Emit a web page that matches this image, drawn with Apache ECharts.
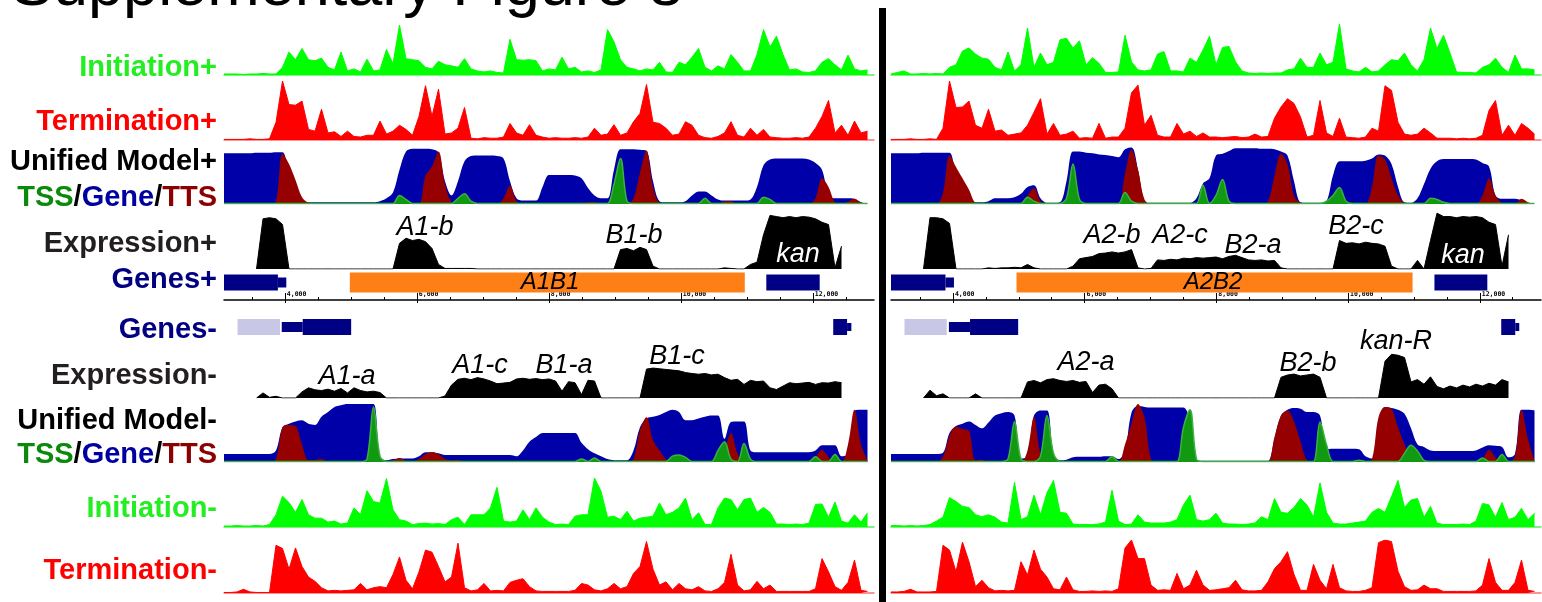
<!DOCTYPE html>
<html><head><meta charset="utf-8">
<script src="https://cdn.jsdelivr.net/npm/echarts/dist/echarts.min.js"></script>
<style>html,body{margin:0;padding:0;background:#fff;}#chart{width:1542px;height:602px;}</style>
</head><body><div id="chart"></div>
<script>
const n = null;
// ---------------- DATA (values in % of track height, 100 bins per panel) ----------------
const TITLE = 'Supplementary Figure 8';
const ROW_LABELS = ['Initiation+','Termination+','Unified Model+','TSS/Gene/TTS','Expression+','Genes+','Genes-','Expression-','Unified Model-','TSS/Gene/TTS','Initiation-','Termination-'];
const TICKS = [4000,6000,8000,10000,12000];
const MINOR_TICKS = [3500,4500,5000,5500,6500,7000,7500,8500,9000,9500,10500,11000,11500,12500];

// Left panel
const IP_L = [2,2,2,1,2,2,3,2,2,15, 45,30,52,30,28,33,15,10,45,8, 12,6,31,8,10,50,22,98,32,30, 28,15,12,27,20,18,15,32,12,8, 6,8,5,4,70,30,29,30,28,8, 12,10,35,12,15,6,8,5,10,89, 65,30,15,12,8,12,10,25,6,5, 25,20,35,52,15,8,18,12,40,25, 8,8,40,89,55,76,40,10,12,6, 5,8,25,32,20,10,39,12,8,10];
const TP_L = [1,1,1,1,2,1,1,2,30,100, 60,59,66,18,15,52,12,14,6,15, 6,5,8,8,32,10,15,25,18,8, 40,92,40,86,10,12,20,55,3,2, 4,3,3,5,28,12,8,26,8,5, 3,4,3,3,4,3,5,20,8,10, 26,8,12,31,45,94,30,28,20,8, 10,31,25,8,4,3,6,12,31,8, 5,20,8,18,5,4,3,3,4,3, 5,20,40,67,12,25,8,32,12,15];
const UB_L = [89,89,89,89,89,90,90,90,91,91, 50,20,5,3,3,3,3,3,3,3, 3,3,3,3,5,10,20,60,92,97, 97,97,96,90,40,15,40,75,84,85, 85,85,84,80,40,10,6,6,6,30, 51,51,51,51,50,45,28,15,10,10, 60,96,96,96,95,93,40,5,3,3, 3,5,15,22,22,15,8,6,6,6, 6,8,30,68,78,80,80,80,80,80, 78,72,60,15,10,10,10,9,3,1];
const UR_L = [0,0,0,0,0,0,0,0,5,88, 70,42,12,2,0,0,0,0,0,0, 0,0,0,0,0,0,0,0,0,0, 0,50,66,92,35,3,0,0,0,0, 0,0,0,10,32,5,0,0,0,0, 0,0,0,0,0,0,3,3,0,0, 0,0,0,10,55,94,30,2,0,0, 0,0,0,0,0,0,0,5,5,0, 0,0,0,0,0,0,0,0,0,0, 0,10,45,30,3,0,4,9,2,0];
const UG_L = [1,1,1,1,1,1,1,1,1,1, 1,1,1,1,1,1,1,1,1,1, 1,1,1,1,1,1,1,15,8,1, 1,1,1,1,1,1,10,18,5,1, 1,1,1,1,1,1,1,1,1,1, 1,1,1,1,1,1,1,1,1,1, 35,80,5,1,1,1,1,1,1,1, 1,1,1,1,10,1,1,1,1,1, 1,1,1,12,8,1,1,1,1,1, 1,1,1,1,1,1,1,1,1,1];
const EP_L = [n,n,n,n,n,0,88,90,88,78, 0,0,0,0,0,0,0,0,0,0, 0,0,0,0,0,0,0,45,54,50, 52,48,36,8,1,1,1,1,1,0, 0,0,0,0,0,0,0,0,0,0, 0,0,0,0,0,0,0,0,0,0, 0,34,36,32,38,34,5,0,0,0, 0,0,0,0,0,0,0,2,1,0, 0,8,12,60,94,92,90,92,90,92, 91,88,82,78,2,40,n,n,n,n];
const GP_L = [[3078,3895,0],[3895,4022,1],[4985,10970,2],[11296,12105,0]];
const GM_L = [[3283,3927,3],[3953,4271,1],[4271,5005,0],[12310,12520,0],[12520,12585,4]];
const EM_L = [n,n,n,n,n,0,15,2,5,0, 0,0,18,30,24,22,26,20,28,15, 30,22,18,20,16,0,0,0,0,0, 0,0,0,0,6,38,55,58,54,60, 56,50,42,44,46,56,58,55,57,54, 56,50,20,48,45,10,52,50,0,0, 0,0,0,0,0,85,88,86,84,82, 80,75,72,70,72,68,70,60,52,55, 40,52,48,50,30,25,35,45,42,44, 46,40,45,44,48,45,n,n,n,n];
const UMB_L = [14,14,14,14,14,14,14,14,20,60, 66,70,72,66,64,78,86,95,98,100, 100,100,100,100,10,3,5,6,6,6, 10,17,17,15,12,12,12,12,12,12, 12,12,12,12,12,10,20,35,43,50, 50,50,50,50,50,33,22,15,10,5, 3,3,3,20,60,75,78,81,86,90, 86,72,72,75,78,80,80,40,69,70, 70,20,17,17,17,17,17,17,17,17, 17,20,29,29,29,10,12,88,90,90];
const UMR_L = [0,0,0,0,0,0,0,0,5,60, 64,62,30,3,4,5,0,0,0,0, 0,0,0,0,0,0,3,7,2,0, 5,14,17,14,5,3,4,0,0,0, 0,0,0,0,0,0,0,0,0,0, 0,0,0,0,0,0,0,0,0,0, 0,0,0,5,55,77,38,20,5,0, 4,8,0,0,0,0,0,20,50,15, 0,0,0,0,0,0,0,0,0,0, 0,8,21,8,0,0,30,90,30,2];
const UMG_L = [1,1,1,1,1,1,1,1,1,1, 1,1,1,1,1,1,1,1,1,1, 1,1,5,95,10,1,1,1,1,1, 1,1,1,1,1,1,1,1,1,1, 1,1,1,1,1,1,1,1,1,1, 1,1,1,1,1,5,1,7,1,1, 1,1,1,1,1,1,1,1,1,10, 12,8,1,1,1,1,20,35,5,1, 32,5,1,1,1,1,1,1,1,1, 1,9,1,1,13,1,1,1,1,1];
const IM_L = [2,2,3,2,2,3,2,5,25,63, 50,30,56,25,18,18,10,12,6,8, 39,25,74,52,49,99,35,15,12,5, 7,8,6,7,5,15,20,5,25,25, 25,39,81,12,10,12,35,15,39,20, 10,5,6,5,22,25,25,100,73,20, 22,15,32,12,18,20,22,49,25,30, 39,59,15,29,5,5,39,59,56,35, 56,59,30,40,30,6,6,5,6,5, 8,46,47,20,51,12,8,25,10,29];
const TM_L = [1,1,2,7,2,1,1,1,90,84, 45,85,50,30,22,10,4,5,4,5, 6,18,6,10,12,10,35,68,24,8, 40,81,77,50,21,30,94,10,4,6, 18,4,5,4,20,24,27,12,4,3, 3,3,3,3,5,18,15,6,4,8, 18,8,12,37,50,97,45,15,21,6, 18,8,6,12,4,3,8,20,73,15, 4,6,22,8,15,3,3,3,3,3, 3,8,65,40,12,5,20,62,5,3];
const NAMES_L = ['A1-b','B1-b','kan','A1B1','A1-a','A1-c','B1-a','B1-c'];

// Right panel
const IP_R = [2,5,8,2,2,3,2,3,2,15, 20,47,53,41,33,31,15,10,45,8, 20,92,15,43,20,25,69,72,53,67, 20,34,23,5,5,6,78,26,10,8, 10,41,46,8,8,6,33,25,49,76, 20,54,56,26,8,4,3,4,3,4, 4,10,12,33,15,15,43,20,25,100, 12,8,6,15,6,8,20,30,28,43, 20,8,30,92,52,78,43,6,5,5, 4,15,20,33,15,5,39,12,12,10];
const TP_R = [1,1,1,2,1,1,2,1,20,100, 55,56,66,25,20,52,15,17,8,10, 12,25,47,70,10,28,8,10,15,3, 4,3,28,3,5,5,20,80,93,25, 42,8,5,5,28,10,15,6,12,5, 5,4,5,6,4,5,10,5,6,37, 56,70,62,39,5,8,67,12,6,37, 5,4,3,5,20,15,92,84,30,10, 8,10,20,12,3,3,3,2,3,2, 3,8,50,67,8,25,8,28,20,10];
const UB_R = [89,89,89,89,89,90,90,90,90,90, 50,20,5,3,3,5,10,10,10,12, 18,30,33,10,2,2,3,40,92,92, 90,89,87,86,84,82,96,99,60,5, 2,2,2,2,2,2,2,10,36,45, 85,88,93,98,98,98,98,97,97,96, 92,85,40,3,2,2,2,5,50,75, 75,75,75,76,80,87,85,70,30,3, 2,10,35,62,75,79,79,79,79,79, 78,72,66,15,9,9,9,6,1,1];
const UR_R = [0,0,0,0,0,0,0,0,20,85, 65,45,25,2,0,0,0,0,0,0, 0,15,28,5,0,0,0,0,0,0, 0,0,0,0,0,0,53,95,60,8, 0,0,0,0,0,0,0,0,0,0, 0,0,0,0,0,0,0,0,5,50, 88,70,15,2,0,0,0,0,0,0, 0,0,0,0,30,85,78,45,15,2, 0,0,0,0,0,0,0,0,0,0, 0,15,45,15,2,0,0,9,3,0];
const UG_R = [1,1,1,1,1,1,1,1,1,1, 1,1,1,1,1,1,1,1,1,1, 1,12,5,1,1,1,1,10,70,8, 1,1,1,1,1,1,20,5,1,1, 1,1,1,1,1,1,1,1,33,1, 15,43,5,1,1,1,1,1,1,1, 1,1,1,1,1,1,1,5,15,29, 5,1,1,1,1,1,1,1,1,1, 1,1,1,10,8,3,1,1,1,1, 1,1,1,1,1,1,1,1,1,1];
const EP_R = [n,n,n,n,n,0,90,90,88,80, 0,0,0,0,0,2,1,2,2,3, 2,8,2,0,0,0,0,0,5,18, 20,22,27,28,30,28,30,34,2,0, 1,16,15,17,16,19,18,20,19,20, 21,18,22,24,20,16,15,16,14,15, 2,0,0,0,0,0,0,0,0,50, 45,46,44,47,45,44,40,5,0,0, 0,15,0,50,98,92,92,90,92,91, 92,90,82,78,5,60,n,n,n,n];
const GP_R = [[3060,3887,0],[3887,4016,1],[4966,10980,2],[11312,12115,0]];
const GM_R = [[3265,3907,3],[3939,4260,1],[4260,4991,0],[12326,12539,0],[12539,12600,4]];
const EM_R = [n,n,n,n,n,0,17,5,9,0, 0,0,0,9,0,0,0,0,0,0, 0,35,38,33,40,42,38,36,38,34, 36,12,28,30,20,0,0,0,0,0, 0,0,0,0,0,0,0,0,0,0, 0,0,0,0,0,0,0,0,0,0, 45,50,52,48,50,52,45,0,0,0, 0,0,0,0,0,0,80,95,93,88, 35,40,30,46,25,20,26,22,28,24, 30,26,32,28,40,35,n,n,n,n];
const UMB_R = [14,14,14,14,14,14,14,14,16,50, 62,66,70,64,58,68,80,84,86,80, 6,10,80,89,89,15,3,4,8,9, 9,9,9,10,10,5,20,85,97,95, 94,94,94,94,94,94,70,3,2,2, 2,2,2,2,2,2,2,2,2,40, 80,90,93,92,86,86,80,22,23,23, 23,23,22,10,6,70,95,93,90,83, 58,30,26,20,19,19,19,19,19,19, 20,25,29,28,26,8,14,90,90,89];
const UMR_R = [0,0,0,0,0,0,0,0,10,45, 61,57,54,3,4,0,0,0,0,0, 0,20,78,15,0,0,0,0,0,0, 0,0,0,0,0,0,30,66,100,77, 5,0,0,0,0,0,0,0,0,0, 0,0,0,0,0,0,0,0,0,43, 80,89,70,35,3,0,0,0,0,0, 0,0,0,0,5,77,95,92,60,30, 3,0,0,0,0,0,0,0,0,0, 0,5,21,8,0,0,10,90,40,2];
const UMG_R = [1,1,1,1,1,1,1,1,1,1, 1,1,1,1,1,1,1,1,5,70, 5,1,1,10,80,15,1,1,1,1, 1,1,1,1,9,1,1,1,1,1, 1,1,1,1,1,60,90,5,1,1, 1,1,1,1,1,1,1,1,1,1, 1,1,1,1,1,1,69,30,1,1, 1,1,3,1,1,1,1,1,1,15, 29,19,3,1,1,1,1,1,1,1, 1,7,1,1,13,1,1,1,1,1];
const IM_R = [3,3,2,3,2,3,5,12,20,60, 52,42,40,25,21,25,20,10,8,91, 15,21,65,25,70,95,30,28,6,5, 5,5,6,10,75,12,5,6,25,10, 8,8,8,10,15,45,65,15,12,15, 28,8,6,6,5,6,8,21,15,58, 30,28,40,58,45,20,90,30,8,6, 6,8,10,12,30,38,30,62,95,40, 55,58,20,42,8,5,5,5,6,5, 12,48,45,20,50,15,20,38,15,28];
const TM_R = [2,2,3,7,2,2,2,3,90,81, 40,96,59,12,24,10,4,5,4,5, 59,34,81,45,30,8,6,30,6,3, 3,4,3,4,3,8,85,100,65,65, 15,5,6,5,37,8,15,43,15,5, 6,8,10,24,6,4,4,5,21,46, 59,78,35,5,5,54,24,8,54,10, 4,3,3,5,10,95,100,97,41,12, 5,6,15,8,8,3,3,3,3,3, 4,15,65,20,5,5,20,62,5,3];
const NAMES_R = ['A2-b','A2-c','B2-a','B2-c','kan','A2B2','A2-a','B2-b','kan-R'];

// ---------------- LAYOUT / STYLE ----------------
const PANELS = [
  {left:224, width:650, min:3078, max:12928, exprMTop:364, exprMH:34,
   d:{ip:IP_L,tp:TP_L,ub:UB_L,ur:UR_L,ug:UG_L,ep:EP_L,gp:GP_L,gm:GM_L,em:EM_L,umb:UMB_L,umr:UMR_L,umg:UMG_L,im:IM_L,tm:TM_L}},
  {left:891, width:650, min:3060, max:12930, exprMTop:352, exprMH:46,
   d:{ip:IP_R,tp:TP_R,ub:UB_R,ur:UR_R,ug:UG_R,ep:EP_R,gp:GP_R,gm:GM_R,em:EM_R,umb:UMB_R,umr:UMR_R,umg:UMG_R,im:IM_R,tm:TM_R}}
];
const C = {init:'#00ff00', term:'#ff0000', gene:'#0000a8', tts:'#960000', tss:'#119911', expr:'#000000',
  navy:'#000085', lav:'#c8c8e6', orange:'#ff7f17'};
const GENE_H = [16, 10, 20, 16, 8];
const GENE_C = [C.navy, C.navy, C.orange, C.lav, C.navy];

const grid=[], xAxis=[], yAxis=[], series=[];
function addGrid(p, top, height, ymax, xOpt){
  grid.push({left:p.left, top:top, width:p.width, height:height});
  const gi = grid.length-1;
  const xi = xAxis.length;
  xAxis.push(Object.assign({type:'value', gridIndex:gi, min:p.min, max:p.max, show:false}, xOpt||{}));
  const yi = yAxis.length;
  yAxis.push({type:'value', gridIndex:gi, min:0, max:ymax, show:false});
  return {gi, xi, yi};
}
function baseAx(color, width){
  return {show:true, axisLine:{show:true, onZero:false, lineStyle:{color:color, width:width}}, axisTick:{show:false}, axisLabel:{show:false}, splitLine:{show:false}};
}
function xy(p, arr){ const step=(p.max-p.min)/100; return arr.map((v,i)=>[p.min+i*step, v===null?'-':v]); }
function area(ax, p, arr, color, extra){
  return Object.assign({type:'line', xAxisIndex:ax.xi, yAxisIndex:ax.yi, data:xy(p,arr), symbol:'none', showSymbol:false,
    silent:true, animation:false, lineStyle:{color:color, width:1}, areaStyle:{color:color, opacity:1}, itemStyle:{color:color},
    emphasis:{disabled:true}}, extra||{});
}
function renderGene(params, api){
  const k = api.value(2);
  const a = api.coord([api.value(0), 0.5]), b = api.coord([api.value(1), 0.5]);
  const h = GENE_H[k];
  return {type:'rect', shape:{x:a[0], y:a[1]-h/2, width:b[0]-a[0], height:h}, style:{fill:GENE_C[k]}};
}
const fmt = v => String(v).replace(/\B(?=(\d{3})+(?!\d))/g, ',');

PANELS.forEach(p => {
  const d = p.d;
  const umOpt = {smooth:0.35, lineStyle:{width:0}};
  let ax = addGrid(p, 24, 51, 100, baseAx('#55ee55', 1.5));
  series.push(area(ax, p, d.ip, C.init));
  ax = addGrid(p, 81, 59, 100, baseAx('#ff7070', 1.5));
  series.push(area(ax, p, d.tp, C.term));
  ax = addGrid(p, 147, 57, 100);
  series.push(area(ax, p, d.ub, C.gene, umOpt));
  series.push(area(ax, p, d.ur, C.tts, umOpt));
  series.push(area(ax, p, d.ug, C.tss, {smooth:0.35, lineStyle:{width:1.5, color:'#3cb043'}}));
  ax = addGrid(p, 212, 57, 100);
  series.push(area(ax, p, d.ep, C.expr));
  ax = addGrid(p, 270, 25, 1);
  series.push({type:'custom', xAxisIndex:ax.xi, yAxisIndex:ax.yi, data:d.gp, renderItem:renderGene, silent:true, animation:false, encode:{x:[0,1]}});
  // genomic coordinate axis
  grid.push({left:p.left, top:290, width:p.width, height:10});
  const gi = grid.length-1;
  xAxis.push({type:'value', gridIndex:gi, min:p.min, max:p.max, position:'bottom',
    axisLine:{show:true, onZero:false, lineStyle:{color:'#000', width:1.5}},
    axisTick:{show:true, inside:true, length:7, customValues:TICKS, lineStyle:{color:'#000', width:1}},
    axisLabel:{show:true, inside:true, customValues:TICKS, formatter:fmt, fontSize:6.5, fontWeight:'bold', fontFamily:'DejaVu Sans Mono', color:'#000', align:'left', margin:2, padding:[0,0,0,2]},
    splitLine:{show:false}});
  xAxis.push({type:'value', gridIndex:gi, min:p.min, max:p.max, position:'bottom',
    axisLine:{show:false}, axisTick:{show:true, inside:true, length:3, customValues:MINOR_TICKS, lineStyle:{color:'#000', width:1}},
    axisLabel:{show:false}, splitLine:{show:false}});
  xAxis.push({type:'value', gridIndex:gi, min:p.min, max:p.max, position:'bottom',
    axisLine:{show:false}, axisTick:{show:true, inside:false, length:3, customValues:TICKS, lineStyle:{color:'#000', width:1}},
    axisLabel:{show:false}, splitLine:{show:false}});
  yAxis.push({type:'value', gridIndex:gi, min:0, max:1, show:false});
  ax = addGrid(p, 317, 20, 1);
  series.push({type:'custom', xAxisIndex:ax.xi, yAxisIndex:ax.yi, data:d.gm, renderItem:renderGene, silent:true, animation:false, encode:{x:[0,1]}});
  ax = addGrid(p, p.exprMTop, p.exprMH, 100);
  series.push(area(ax, p, d.em, C.expr));
  ax = addGrid(p, 404, 58, 100);
  series.push(area(ax, p, d.umb, C.gene, umOpt));
  series.push(area(ax, p, d.umr, C.tts, umOpt));
  series.push(area(ax, p, d.umg, C.tss, {smooth:0.35, lineStyle:{width:1.5, color:'#3cb043'}}));
  ax = addGrid(p, 478, 49, 100, baseAx('#55ee55', 1.5));
  series.push(area(ax, p, d.im, C.init));
  ax = addGrid(p, 540, 53, 100, baseAx('#ff7070', 1.5));
  series.push(area(ax, p, d.tm, C.term));
});

// ---------------- TEXT ----------------
const LF = '"Liberation Sans", Arial, sans-serif';
const FS = 29;
const graphic = [];
graphic.push({type:'text', x:11, y:-12, style:{text:TITLE, fontSize:63, fontFamily:LF, fill:'#000', align:'left', verticalAlign:'middle'}});
graphic.push({type:'rect', shape:{x:879, y:8, width:7, height:594}, style:{fill:'#000'}});
const rowY = [68, 122, 162, 198, 244, 280, 330, 376, 421, 455, 509, 571];
const rowC = ['#22ee22', '#ff0000', '#000000', null, '#231f20', '#000080', '#000080', '#231f20', '#000000', null, '#22ee22', '#ff0000'];
const rich = {
  g:{fill:'#0a8a0a', fontSize:FS, fontWeight:'bold', fontFamily:LF},
  k:{fill:'#000000', fontSize:FS, fontWeight:'bold', fontFamily:LF},
  b:{fill:'#0000a0', fontSize:FS, fontWeight:'bold', fontFamily:LF},
  r:{fill:'#8b0000', fontSize:FS, fontWeight:'bold', fontFamily:LF}
};
ROW_LABELS.forEach((t, i) => {
  if (rowC[i] === null) {
    const parts = t.split('/');
    graphic.push({type:'text', x:217, y:rowY[i], style:{text:'{g|'+parts[0]+'}{k|/}{b|'+parts[1]+'}{k|/}{r|'+parts[2]+'}', rich:rich, align:'right', verticalAlign:'middle', fontSize:FS, fontWeight:'bold', fontFamily:LF}});
  } else {
    graphic.push({type:'text', x:217, y:rowY[i], style:{text:t, fill:rowC[i], fontSize:FS, fontWeight:'bold', fontFamily:LF, align:'right', verticalAlign:'middle'}});
  }
});
const namePosL = [[425,227,27,'#000'],[634,235,27,'#000'],[798,254,27,'#fff'],[550,282,24,'#000'],[347,376,27,'#000'],[480,365,27,'#000'],[564,365,27,'#000'],[677,356,27,'#000']];
const namePosR = [[1112,235,27,'#000'],[1180,235,27,'#000'],[1253,245,27,'#000'],[1356,226,27,'#000'],[1463,255,27,'#fff'],[1213,282,24,'#000'],[1086,362,27,'#000'],[1308,363,27,'#000'],[1396,341,27,'#000']];
function addNames(names, pos){
  names.forEach((t,i) => {
    const q = pos[i];
    graphic.push({type:'text', x:q[0], y:q[1], z:10, style:{text:t, fill:q[3], fontSize:q[2], fontStyle:'italic', fontFamily:LF, align:'center', verticalAlign:'middle'}});
  });
}
addNames(NAMES_L, namePosL);
addNames(NAMES_R, namePosR);

const chart = echarts.init(document.getElementById('chart'), null, {renderer:'canvas', width:1542, height:602});
chart.setOption({animation:false, backgroundColor:'#ffffff', grid, xAxis, yAxis, series, graphic});
</script></body></html>
